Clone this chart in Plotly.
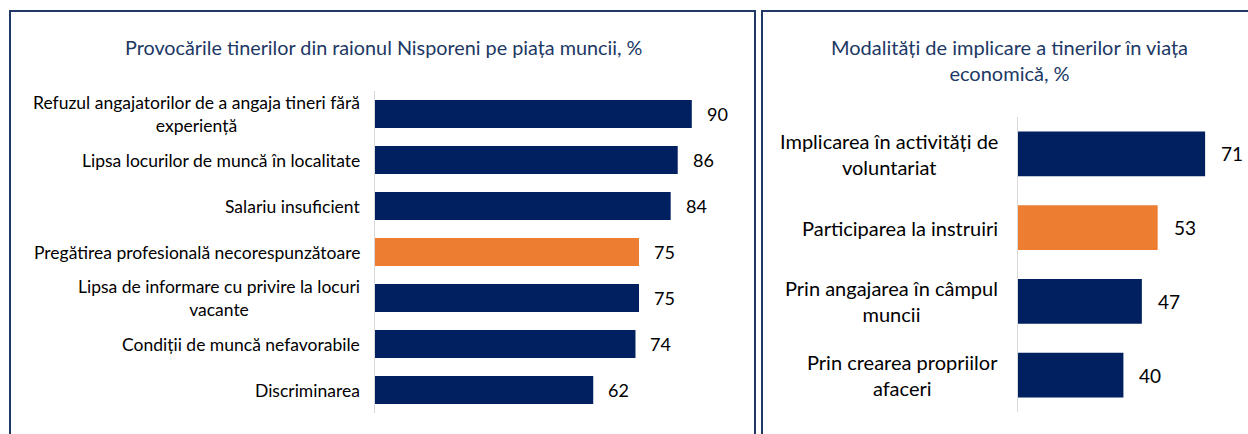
import plotly.graph_objects as go

W, H = 1248, 434

left_title = "Provocările tinerilor din raionul Nisporeni pe piața muncii, %"
left_cats = [
    "Refuzul angajatorilor de a angaja tineri fără<br>experiență",
    "Lipsa locurilor de muncă în localitate",
    "Salariu insuficient",
    "Pregătirea profesională necorespunzătoare",
    "Lipsa de informare cu privire la locuri<br>vacante",
    "Condiții de muncă nefavorabile",
    "Discriminarea",
]
left_vals = [90, 86, 84, 75, 75, 74, 62]
left_highlight = 3

right_title = "Modalități de implicare a tinerilor în viața<br>economică, %"
right_cats = [
    "Implicarea în activități de<br>voluntariat",
    "Participarea la instruiri",
    "Prin angajarea în câmpul<br>muncii",
    "Prin crearea propriilor<br>afaceri",
]
right_vals = [71, 53, 47, 40]
right_highlight = 1

NAVY = "#002060"
ORANGE = "#ED7D31"
BORDER = "#1F3864"
TITLE_C = "#203864"
FONT = "Lato, 'Open Sans', sans-serif"


def px(x):
    return x / W


def py(y):
    return 1 - y / H


def colors(n, hi):
    return [ORANGE if i == hi else NAVY for i in range(n)]


fig = go.Figure()
fig.add_trace(go.Bar(
    x=left_vals, y=list(range(len(left_cats))), orientation="h",
    marker=dict(color=colors(len(left_vals), left_highlight), line=dict(width=0)),
    xaxis="x", yaxis="y", showlegend=False, hoverinfo="skip",
))
fig.add_trace(go.Bar(
    x=right_vals, y=list(range(len(right_cats))), orientation="h",
    marker=dict(color=colors(len(right_vals), right_highlight), line=dict(width=0)),
    xaxis="x2", yaxis="y2", showlegend=False, hoverinfo="skip",
))

annotations = []
for i, c in enumerate(left_cats):
    annotations.append(dict(
        x=px(362), xref="paper", y=i, yref="y", text=c, showarrow=False,
        xanchor="right", align="center", font=dict(size=17.5, color="#000000", family=FONT),
    ))
for i, v in enumerate(left_vals):
    annotations.append(dict(
        x=v, xref="x", y=i, yref="y", text=str(v), showarrow=False,
        xanchor="left", xshift=13, font=dict(size=18, color="#000000", family=FONT),
    ))
for i, c in enumerate(right_cats):
    annotations.append(dict(
        x=px(1000), xref="paper", y=i, yref="y2", text=c, showarrow=False,
        xanchor="right", align="center", font=dict(size=20, color="#000000", family=FONT),
    ))
for i, v in enumerate(right_vals):
    annotations.append(dict(
        x=v, xref="x2", y=i, yref="y2", text=str(v), showarrow=False,
        xanchor="left", xshift=14, font=dict(size=19, color="#000000", family=FONT),
    ))
annotations.append(dict(
    x=px(383), xref="paper", y=py(47), yref="paper", text=left_title, showarrow=False,
    xanchor="center", yanchor="middle", align="center",
    font=dict(size=19.8, color=TITLE_C, family=FONT),
))
annotations.append(dict(
    x=px(1009), xref="paper", y=py(60), yref="paper", text=right_title, showarrow=False,
    xanchor="center", yanchor="middle", align="center",
    font=dict(size=20, color=TITLE_C, family=FONT),
))

shapes = [
    dict(type="rect", xref="paper", yref="paper", x0=px(10), x1=px(755), y0=py(450), y1=py(11),
         line=dict(color=BORDER, width=2), fillcolor="rgba(0,0,0,0)"),
    dict(type="rect", xref="paper", yref="paper", x0=px(762), x1=px(1270), y0=py(450), y1=py(11),
         line=dict(color=BORDER, width=2), fillcolor="rgba(0,0,0,0)"),
]

fig.update_layout(
    width=W, height=H, autosize=False,
    margin=dict(l=0, r=0, t=0, b=0),
    paper_bgcolor="white", plot_bgcolor="white",
    bargap=0.39,
    hovermode=False,
    font=dict(family=FONT),
    xaxis=dict(domain=[px(375), px(727)], range=[0, 100], visible=False, fixedrange=True),
    yaxis=dict(domain=[py(413), py(91)], range=[len(left_cats) - 0.5, -0.5],
               showticklabels=False, showgrid=False, zeroline=False,
               showline=True, linecolor="#D9D9D9", linewidth=1.5, ticks="", anchor="x",
               fixedrange=True),
    xaxis2=dict(domain=[px(1018), px(1242)], range=[0, 85], visible=False, fixedrange=True, anchor="y2"),
    yaxis2=dict(domain=[py(412), py(117)], range=[len(right_cats) - 0.5, -0.5],
                showticklabels=False, showgrid=False, zeroline=False,
                showline=True, linecolor="#D9D9D9", linewidth=1.5, ticks="", anchor="x2",
                fixedrange=True),
    annotations=annotations,
    shapes=shapes,
)

fig.write_html(
    "out.html",
    config={"displayModeBar": False, "staticPlot": True},
    post_script="document.body.style.margin='0';document.body.style.overflow='hidden';",
)
